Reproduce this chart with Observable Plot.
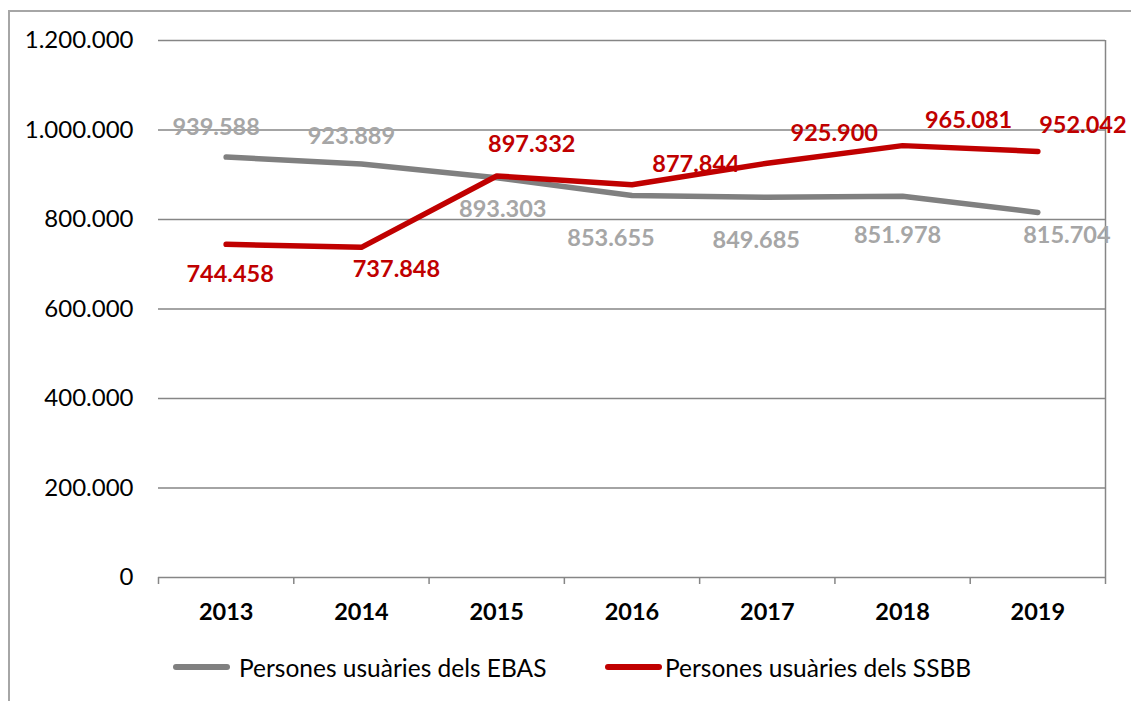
<!DOCTYPE html>
<html>
<head>
<meta charset="utf-8">
<script src="https://cdn.jsdelivr.net/npm/d3@7"></script>
<script src="https://cdn.jsdelivr.net/npm/@observablehq/plot@0.6"></script>
<style>
  html, body { margin: 0; padding: 0; background: #fff; width: 1131px; height: 701px; overflow: hidden; }
  #frame { position: absolute; left: 8px; top: 10px; width: 1200px; height: 800px;
           border-left: 2px solid #a6a6a6; border-top: 2px solid #a6a6a6; box-sizing: border-box; }
  #chart { position: absolute; left: 0; top: 0; }
  #legend { position: absolute; left: 0; top: 640px; width: 1131px; height: 61px;
            font-family: Lato, sans-serif; font-size: 24.5px; color: #000; }
  .item { position: absolute; top: 13px; display: flex; align-items: center; height: 28px; }
  .swatch { width: 57px; height: 6px; border-radius: 3px; margin-right: 8px; }
</style>
</head>
<body>
<div id="frame"></div>
<div id="chart"></div>
<div id="legend"></div>
<script>
// ---- data ----
const years = ["2013", "2014", "2015", "2016", "2017", "2018", "2019"];
const ebas = [939588, 923889, 893303, 853655, 849685, 851978, 815704];
const ssbb = [744458, 737848, 897332, 877844, 925900, 965081, 952042];
const seriesNames = ["Persones usuàries dels EBAS", "Persones usuàries dels SSBB"];
const yTicks = [0, 200000, 400000, 600000, 800000, 1000000, 1200000];

// ---- styling (label placement offsets, in px) ----
const ebasLabelOffsets = [[-10, -30], [-10, -28], [6, 32], [-21, 43], [-11, 43], [-5, 39], [29, 23]];
const ssbbLabelOffsets = [[4, 30], [35, 22], [35, -31], [64, -20], [67, -30], [66, -25], [45, -26]];
const colors = {ebasLine: "#808080", ebasText: "#a6a6a6", ssbb: "#c00000", grid: "#868686"};

const locale = d3.formatLocale({decimal: ",", thousands: ".", grouping: [3], currency: ["", "€"]});
const fmt = locale.format(",d");

const ebasData = years.map((y, i) => ({i, year: y, value: ebas[i]}));
const ssbbData = years.map((y, i) => ({i, year: y, value: ssbb[i]}));
const centers = years.map((_, i) => i);
const boundaries = years.map((_, i) => i - 0.5).concat([years.length - 0.5]);

const labelMarks = [];
ebasData.forEach((d, k) => {
  labelMarks.push(Plot.text([d], {x: "i", y: "value", text: dd => fmt(dd.value),
    dx: ebasLabelOffsets[k][0], dy: ebasLabelOffsets[k][1], fill: colors.ebasText,
    fontWeight: "bold", fontSize: 23.5, lineAnchor: "middle", textAnchor: "middle"}));
});
ssbbData.forEach((d, k) => {
  labelMarks.push(Plot.text([d], {x: "i", y: "value", text: dd => fmt(dd.value),
    dx: ssbbLabelOffsets[k][0], dy: ssbbLabelOffsets[k][1], fill: colors.ssbb,
    fontWeight: "bold", fontSize: 23.5, lineAnchor: "middle", textAnchor: "middle"}));
});

const chart = Plot.plot({
  width: 1131,
  height: 640,
  marginTop: 40,
  marginBottom: 63,
  marginLeft: 158,
  marginRight: 26,
  style: {fontFamily: "Lato, sans-serif", fontSize: "24px", background: "transparent", overflow: "visible", color: "#000"},
  x: {type: "linear", domain: [-0.5, years.length - 0.5]},
  y: {domain: [0, 1200000]},
  marks: [
    Plot.gridY(yTicks, {stroke: colors.grid, strokeOpacity: 1, strokeWidth: 1.5}),
    Plot.ruleX([years.length - 0.5], {stroke: colors.grid, strokeWidth: 1.5}),
    Plot.axisY({ticks: yTicks, tickFormat: fmt, tickSize: 0, tickPadding: 25, fontSize: 24, fill: "#000", label: null}),
    Plot.axisX({ticks: boundaries, tickSize: 7, tickFormat: () => "", stroke: colors.grid, strokeWidth: 1.5, strokeOpacity: 1, label: null}),
    Plot.axisX({ticks: centers, tickSize: 0, tickPadding: 26, tickFormat: i => years[i], fontWeight: "bold", fontSize: 23.5, fill: "#000", label: null}),
    Plot.line(ebasData, {x: "i", y: "value", stroke: colors.ebasLine, strokeWidth: 5.5, strokeLinecap: "round", strokeLinejoin: "round"}),
    Plot.line(ssbbData, {x: "i", y: "value", stroke: colors.ssbb, strokeWidth: 5.5, strokeLinecap: "round", strokeLinejoin: "round"}),
    ...labelMarks
  ]
});
document.getElementById("chart").appendChild(chart);

// legend (HTML, below the SVG)
const legend = document.getElementById("legend");
const legendItems = [
  {name: seriesNames[0], color: colors.ebasLine, left: 173, gap: 9},
  {name: seriesNames[1], color: colors.ssbb, left: 605, gap: 3}
];
legendItems.forEach(it => {
  const div = document.createElement("div");
  div.className = "item";
  div.style.left = it.left + "px";
  const sw = document.createElement("div");
  sw.className = "swatch";
  sw.style.background = it.color;
  sw.style.marginRight = it.gap + "px";
  const tx = document.createElement("span");
  tx.textContent = it.name;
  div.appendChild(sw);
  div.appendChild(tx);
  legend.appendChild(div);
});
</script>
</body>
</html>
